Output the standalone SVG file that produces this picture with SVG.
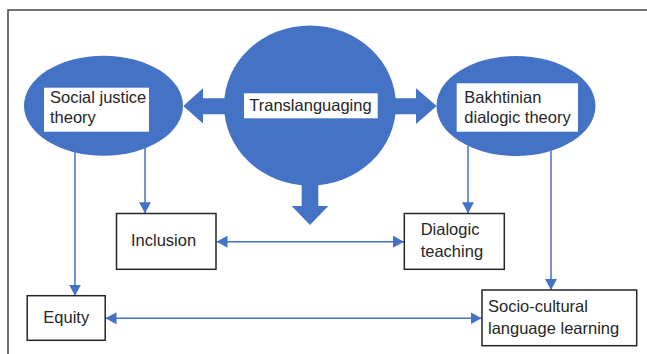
<svg xmlns="http://www.w3.org/2000/svg" width="647" height="354" viewBox="0 0 647 354">
<style>
.blob{fill:#4472C4;}
.lbl{fill:#fff;}
.box{fill:#fff;stroke:#262626;stroke-width:1.5;}
.t{font-family:"Liberation Sans",Arial,sans-serif;font-size:16.5px;fill:#262626;}
.ln{stroke:#4472C4;stroke-width:1.5;fill:none;}
</style>
<defs>
<marker id="ah" markerUnits="userSpaceOnUse" markerWidth="12" markerHeight="12" refX="11" refY="6" orient="auto-start-reverse" viewBox="0 0 12 12">
<path d="M0,0 L11,6 L0,12 Z" fill="#4472C4"/>
</marker>
</defs>
<rect x="8" y="10" width="700" height="400" fill="none" stroke="#444" stroke-width="1.5"/>
<g id="connectors">
<polygon class="blob" points="230,98.3 203,98.3 203,88.3 183.3,106 203,123.5 203,114.3 230,114.3"/>
<polygon class="blob" points="390,98.3 416,98.3 416,88.3 436.7,106 416,124 416,114.3 390,114.3"/>
<polygon class="blob" points="301.7,180 301.7,206 291.7,206 310,225 328.3,206 318.3,206 318.3,180"/>
<line class="ln" x1="145" y1="148" x2="145" y2="213.3" marker-end="url(#ah)"/>
<line class="ln" x1="75" y1="152" x2="75" y2="295.7" marker-end="url(#ah)"/>
<line class="ln" x1="468" y1="146" x2="468" y2="213.3" marker-end="url(#ah)"/>
<line class="ln" x1="551" y1="150.5" x2="551" y2="290" marker-end="url(#ah)"/>
<line class="ln" x1="216.5" y1="241.7" x2="404" y2="241.7" marker-start="url(#ah)" marker-end="url(#ah)"/>
<line class="ln" x1="105.5" y1="318.3" x2="481.5" y2="318.3" marker-start="url(#ah)" marker-end="url(#ah)"/>
</g>
<g id="social-justice">
<ellipse class="blob" cx="103.5" cy="105.7" rx="79.5" ry="50"/>
<rect class="lbl" x="44" y="87.7" width="105" height="44"/>
<text class="t" x="50" y="102.7">Social justice</text>
<text class="t" x="50" y="123">theory</text>
</g>
<g id="translanguaging">
<ellipse class="blob" cx="310" cy="105.5" rx="86" ry="80"/>
<rect class="lbl" x="244" y="93.3" width="133.7" height="25"/>
<text class="t" x="249.3" y="111">Translanguaging</text>
</g>
<g id="bakhtinian">
<ellipse class="blob" cx="516" cy="106" rx="79.5" ry="50"/>
<rect class="lbl" x="456.7" y="83.3" width="121.3" height="48.4"/>
<text class="t" x="464.3" y="102.7">Bakhtinian</text>
<text class="t" x="464.3" y="123.3">dialogic theory</text>
</g>
<g id="inclusion">
<rect class="box" x="116.5" y="213.5" width="99.5" height="55.8"/>
<text class="t" x="131" y="246">Inclusion</text>
</g>
<g id="dialogic-teaching">
<rect class="box" x="404.3" y="213.5" width="100" height="55.8"/>
<text class="t" x="420.7" y="235">Dialogic</text>
<text class="t" x="420.7" y="256.7">teaching</text>
</g>
<g id="equity">
<rect class="box" x="27.2" y="295.7" width="78" height="44.6"/>
<text class="t" x="43.3" y="322.7">Equity</text>
</g>
<g id="socio-cultural">
<rect class="box" x="482" y="290" width="154.7" height="55.7"/>
<text class="t" x="488" y="311.7">Socio-cultural</text>
<text class="t" x="488" y="334">language learning</text>
</g>
</svg>
